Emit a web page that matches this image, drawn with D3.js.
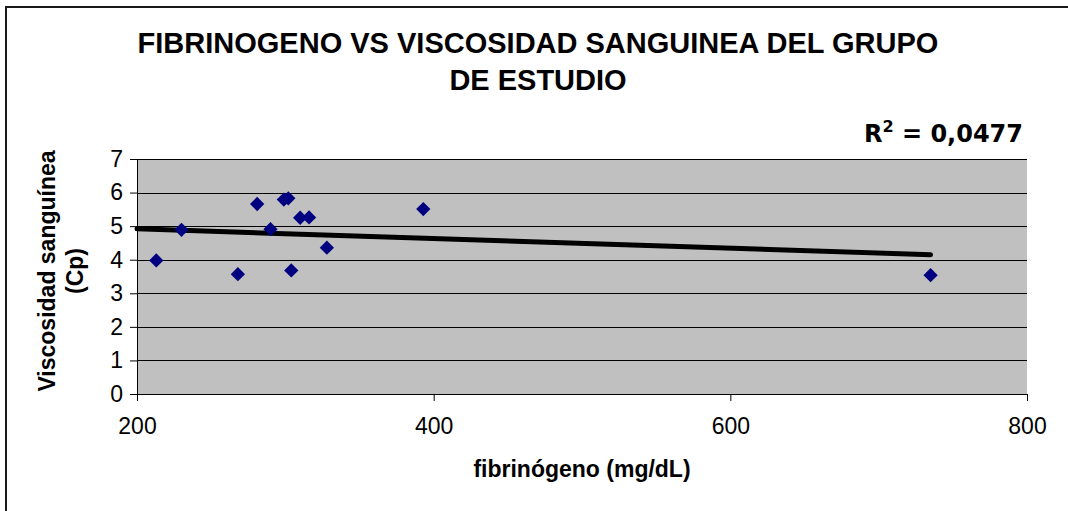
<!DOCTYPE html>
<html>
<head>
<meta charset="utf-8">
<script src="https://cdn.jsdelivr.net/npm/d3@7"></script>
<style>
  body { margin: 0; background: #fff; }
  svg { display: block; }
</style>
</head>
<body>
<svg id="chart"></svg>
<script>
// data
const fibrinogeno = [213, 230, 268, 281, 290, 299, 302, 304, 310, 316, 328, 393, 735]
const viscosidad = [3.98, 4.89, 3.57, 5.66, 4.91, 5.79, 5.83, 3.68, 5.25, 5.26, 4.36, 5.51, 3.54]
// linear trendline endpoints as drawn
const trendX = [200, 735]
const trendY = [4.92, 4.15]
const xTicks = [200, 400, 600, 800]
const yTicks = [0, 1, 2, 3, 4, 5, 6, 7]
const titleLines = ['FIBRINOGENO VS VISCOSIDAD SANGUINEA DEL GRUPO', 'DE ESTUDIO']
const yLabelLines = ['Viscosidad sanguínea', '(Cp)']
const xLabel = 'fibrinógeno (mg/dL)'
const r2Text = '0,0477'

const width = 1068
const height = 511
const plot = { left: 137, right: 1027, top: 159, bottom: 394 }
const arial = 'Arial, "Liberation Sans", sans-serif'

const svg = d3.select('#chart')
              .attr('width', width)
              .attr('height', height)
              .style('font-family', arial)

//outer frame (right and bottom edges fall outside the window)
svg.append('rect')
   .attr('x', 6)
   .attr('y', 7)
   .attr('width', 1200)
   .attr('height', 700)
   .attr('fill', '#fff')
   .attr('stroke', '#1a1a1a')
   .attr('stroke-width', 2)

//scales
const xScale = d3.scaleLinear()
                 .domain([200, 800])
                 .range([plot.left, plot.right])

const yScale = d3.scaleLinear()
                 .domain([0, 7])
                 .range([plot.bottom, plot.top])

//plot background
svg.append('rect')
   .attr('x', plot.left)
   .attr('y', plot.top)
   .attr('width', plot.right - plot.left)
   .attr('height', plot.bottom - plot.top)
   .attr('fill', '#c0c0c0')

//gridlines
svg.append('g')
   .selectAll('line')
   .data(yTicks.filter(d => d > 0))
   .join('line')
   .attr('x1', plot.left)
   .attr('x2', plot.right)
   .attr('y1', d => Math.round(yScale(d)) + 0.5)
   .attr('y2', d => Math.round(yScale(d)) + 0.5)
   .attr('stroke', '#000')
   .attr('stroke-width', 1)

//axes
const xAxis = d3.axisBottom(xScale)
                .tickValues(xTicks)
                .tickSize(7)
                .tickPadding(17)
                .tickFormat(d3.format('d'))

const yAxis = d3.axisLeft(yScale)
                .tickValues(yTicks)
                .tickSize(7)
                .tickPadding(7)
                .tickFormat(d3.format('d'))

const gx = svg.append('g')
              .attr('transform', `translate(0, ${plot.bottom})`)
              .call(xAxis)
gx.select('.domain').attr('stroke', '#000').attr('d', `M${plot.left},0.5H${plot.right}`)
gx.selectAll('.tick line').attr('stroke', '#000')
gx.selectAll('text').attr('fill', '#000').style('font-size', '23px').style('font-family', arial)

const gy = svg.append('g')
              .attr('transform', `translate(${plot.left}, 0)`)
              .call(yAxis)
gy.select('.domain').attr('stroke', '#000').attr('d', `M0.5,${plot.top}V${plot.bottom}`)
gy.selectAll('.tick line').attr('stroke', '#000')
gy.selectAll('text').attr('fill', '#000').style('font-size', '23px').style('font-family', arial)

//trendline
svg.append('line')
   .attr('x1', xScale(trendX[0]))
   .attr('y1', yScale(trendY[0]))
   .attr('x2', xScale(trendX[1]))
   .attr('y2', yScale(trendY[1]))
   .attr('stroke', '#000')
   .attr('stroke-width', 5)
   .attr('stroke-linecap', 'round')

//points
const diamond = d3.symbol().type(d3.symbolDiamond2).size(130)
svg.append('g')
   .selectAll('path')
   .data(fibrinogeno.map((v, i) => [v, viscosidad[i]]))
   .join('path')
   .attr('d', diamond)
   .attr('transform', d => `translate(${xScale(d[0])}, ${yScale(d[1])})`)
   .attr('fill', '#000080')

//title
svg.append('text')
   .attr('x', 538)
   .attr('y', 53)
   .attr('text-anchor', 'middle')
   .style('font-size', '29px')
   .style('font-weight', 'bold')
   .selectAll('tspan')
   .data(titleLines)
   .join('tspan')
   .attr('x', 538)
   .attr('dy', (d, i) => i === 0 ? 0 : 37)
   .text(d => d)

//y label
svg.append('text')
   .attr('transform', 'translate(55, 271) rotate(-90)')
   .attr('text-anchor', 'middle')
   .style('font-size', '23px')
   .style('font-weight', 'bold')
   .selectAll('tspan')
   .data(yLabelLines)
   .join('tspan')
   .attr('x', 0)
   .attr('dy', (d, i) => i === 0 ? 0 : 28)
   .text(d => d)

//x label
svg.append('text')
   .attr('x', 582)
   .attr('y', 477)
   .attr('text-anchor', 'middle')
   .style('font-size', '23px')
   .style('font-weight', 'bold')
   .text(xLabel)

//R squared
const r2 = svg.append('text')
              .attr('x', 1023)
              .attr('y', 142)
              .attr('text-anchor', 'end')
              .style('font-family', 'Verdana, "DejaVu Sans", sans-serif')
              .style('font-size', '24px')
              .style('font-weight', 'bold')
r2.append('tspan').text('R')
r2.append('tspan').attr('dy', -10).style('font-size', '16px').text('2')
r2.append('tspan').attr('dy', 10).text(' = ' + r2Text)
</script>
</body>
</html>
